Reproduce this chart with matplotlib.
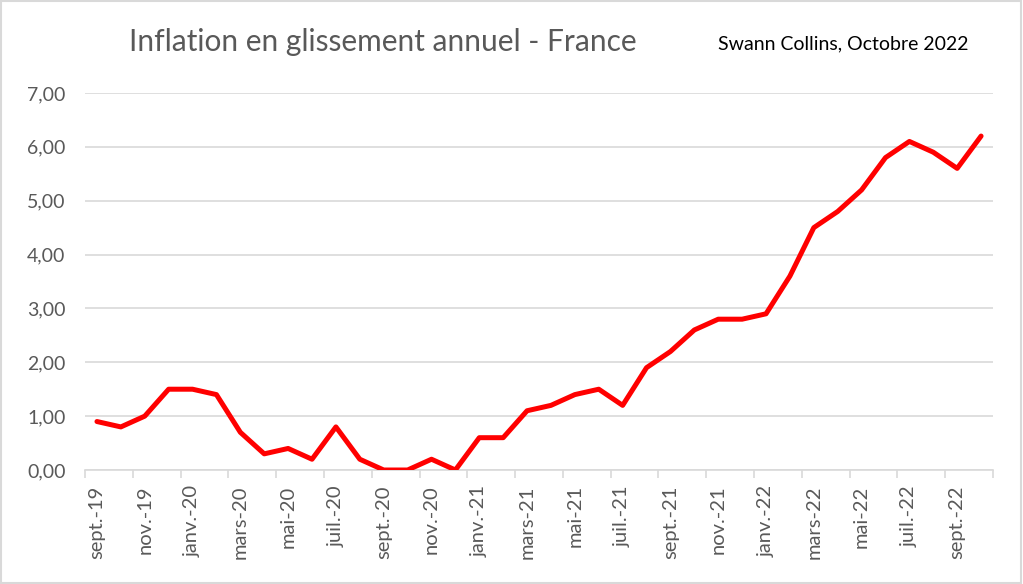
import matplotlib
matplotlib.use("Agg")
import matplotlib.pyplot as plt
from matplotlib.patches import Rectangle

months = ["sept.-19", "oct.-19", "nov.-19", "déc.-19",
          "janv.-20", "févr.-20", "mars-20", "avr.-20", "mai-20", "juin-20",
          "juil.-20", "août-20", "sept.-20", "oct.-20", "nov.-20", "déc.-20",
          "janv.-21", "févr.-21", "mars-21", "avr.-21", "mai-21", "juin-21",
          "juil.-21", "août-21", "sept.-21", "oct.-21", "nov.-21", "déc.-21",
          "janv.-22", "févr.-22", "mars-22", "avr.-22", "mai-22", "juin-22",
          "juil.-22", "août-22", "sept.-22", "oct.-22"]
inflation = [0.9, 0.8, 1.0, 1.5,
             1.5, 1.4, 0.7, 0.3, 0.4, 0.2,
             0.8, 0.2, 0.0, 0.0, 0.2, 0.0,
             0.6, 0.6, 1.1, 1.2, 1.4, 1.5,
             1.2, 1.9, 2.2, 2.6, 2.8, 2.8,
             2.9, 3.6, 4.5, 4.8, 5.2, 5.8,
             6.1, 5.9, 5.6, 6.2]
y_ticks = [0, 1, 2, 3, 4, 5, 6, 7]

plt.rcParams['font.family'] = ['Lato', 'DejaVu Sans']
fig = plt.figure(figsize=(10.23, 5.84), dpi=100)
ax = fig.add_axes([0.0831, 0.1952, 0.8876, 0.6456])

x = list(range(len(months)))
ax.plot(x, inflation, color="#ff0000", lw=3.6, solid_joinstyle="round", solid_capstyle="round", zorder=3)

ax.set_xlim(-0.5, len(months) - 0.5)
ax.set_ylim(0, 7)
ax.set_yticks(y_ticks)
ax.set_yticklabels([f"{v:.2f}".replace(".", ",") for v in y_ticks])
ax.set_xticks(x[::2])
ax.set_xticklabels(months[::2], rotation=90)
ax.set_xticks([i - 0.5 for i in range(0, len(months) + 1, 2)], minor=True)
ax.tick_params(axis="x", which="major", length=0, pad=11, labelsize=14.5, colors="#595959")
ax.tick_params(axis="x", which="minor", length=6, color="#d9d9d9", width=1.2)
ax.tick_params(axis="y", length=0, pad=14, labelsize=14, colors="#595959")
ax.grid(axis="y", color="#d9d9d9", lw=1.2)
for s in ["top", "right", "left"]:
    ax.spines[s].set_visible(False)
ax.spines["bottom"].set_color("#d9d9d9")
ax.spines["bottom"].set_linewidth(1.2)

fig.text(0.374, 0.928, "Inflation en glissement annuel - France", ha="center", va="center",
         fontsize=21.5, color="#595959")
fig.text(0.824, 0.925, "Swann Collins, Octobre 2022", ha="center", va="center",
         fontsize=14, color="black")
fig.patches.append(Rectangle((0.001, 0.001), 0.997, 0.997, transform=fig.transFigure,
                             fill=False, edgecolor="#d9d9d9", lw=1.5))
fig.savefig("out.png", dpi=100)
